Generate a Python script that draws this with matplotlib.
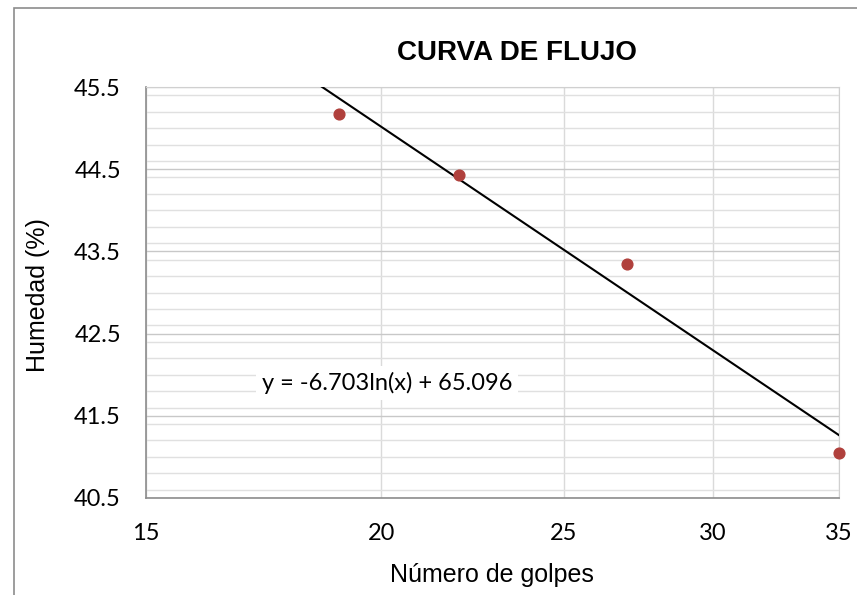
import numpy as np
import matplotlib
matplotlib.use("Agg")
from matplotlib import pyplot as plt
from matplotlib.patches import Rectangle
from matplotlib.ticker import FixedLocator, MultipleLocator, NullFormatter

# datos del ensayo
golpes = [19, 22, 27, 35]
humedad = [45.17, 44.43, 43.35, 41.05]
x_ticks = [15, 20, 25, 30, 35]
y_ticks = [40.5, 41.5, 42.5, 43.5, 44.5, 45.5]
# y = a ln(x) + b
a_coef = -6.703
b_coef = 65.096

plt.rcParams["font.family"] = ["Lato", "DejaVu Sans"]
arial = ["Liberation Sans", "DejaVu Sans"]

W, H = 857, 595
fig = plt.figure(figsize=(W / 100, H / 100), dpi=100)
ax = fig.add_axes([146 / W, 1 - 498 / H, (839 - 146) / W, (498 - 87) / H])

# marco del grafico (solo se ve arriba e izquierda)
fig.patches.append(Rectangle((14 / W, -0.1), 1.2, 1 - 8 / H + 0.1,
                             transform=fig.transFigure, fill=False,
                             edgecolor="#8c8c8c", linewidth=1.2))

ax.set_xscale("log")
ax.set_xlim(15, 35)
ax.set_ylim(40.5, 45.5)
ax.xaxis.set_major_locator(FixedLocator(x_ticks))
ax.xaxis.set_minor_locator(FixedLocator([]))
ax.xaxis.set_minor_formatter(NullFormatter())
ax.set_xticklabels([str(t) for t in x_ticks])
ax.set_yticks(y_ticks)
ax.set_yticklabels([f"{t:.1f}" for t in y_ticks])
ax.yaxis.set_minor_locator(MultipleLocator(0.2))

ax.grid(True, which="major", axis="y", color="#c8c8c8", linewidth=1.0)
ax.grid(True, which="minor", axis="y", color="#e0e0e0", linewidth=1.0)
ax.grid(True, which="major", axis="x", color="#dadada", linewidth=1.0)
ax.set_axisbelow(True)

for s in ["top", "right"]:
    ax.spines[s].set_color("#d0d0d0")
for s in ["left", "bottom"]:
    ax.spines[s].set_color("#8c8c8c")
    ax.spines[s].set_linewidth(1.2)

ax.tick_params(which="both", length=0)
ax.tick_params(axis="x", pad=18, labelsize=17)
ax.tick_params(axis="y", pad=18, labelsize=17)

# linea de tendencia logaritmica
xt = np.linspace(15, 35, 200)
ax.plot(xt, a_coef * np.log(xt) + b_coef, color="black", linewidth=1.5, zorder=3)
ax.scatter(golpes, humedad, s=60, color="#b0403c", zorder=4, clip_on=False)

ax.text(20.15, 41.90, "y = -6.703ln(x) + 65.096", fontsize=17, ha="center", va="center",
        bbox=dict(facecolor="white", edgecolor="none", pad=4), zorder=5)

fig.text(517 / W, 1 - 60 / H, "CURVA DE FLUJO", fontsize=20, fontweight="bold",
         family=arial, ha="center", va="baseline")
fig.text(492 / W, 1 - 582 / H, "Número de golpes", fontsize=18, family=arial,
         ha="center", va="baseline")
fig.text(38 / W, 1 - 295 / H, "Humedad (%)", fontsize=18, family=arial,
         rotation=90, ha="center", va="center")

fig.savefig("out.png", dpi=100)
